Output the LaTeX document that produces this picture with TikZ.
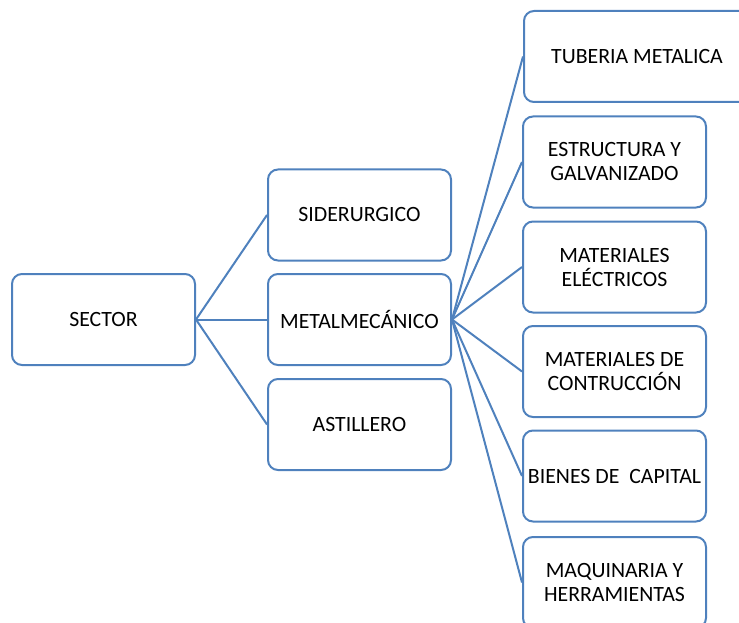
\documentclass[tikz,border=0pt]{standalone}
\usepackage{fontspec}
\setmainfont{Carlito}
\definecolor{boxblue}{HTML}{4F81BD}
\tikzset{
  sectorbox/.style={draw=boxblue,line width=2pt,rounded corners=10pt,
    minimum width=183pt,minimum height=91pt,align=center,inner sep=2pt,
    font=\fontsize{21.8}{24}\selectfont},
  link/.style={draw=boxblue,line width=2pt}
}
\begin{document}
\begin{tikzpicture}[x=1pt,y=-1pt]
  \useasboundingbox (0,0) rectangle (739,623);
  \clip (0,0) rectangle (739,623);
  % first and second level
  \node[sectorbox] (sector) at (103.5,319.5) {SECTOR};
  \node[sectorbox] (sid) at (359.5,215) {SIDERURGICO};
  \node[sectorbox] (metal) at (359.5,319.5) {METALMECÁNICO};
  \node[sectorbox] (ast) at (359.5,424.5) {ASTILLERO};
  % products of the metalworking sector
  \node[sectorbox,anchor=west,minimum width=226pt] (tub) at (523,56.5) {TUBERIA METALICA};
  \node[sectorbox] (est) at (614.5,162) {ESTRUCTURA Y\\GALVANIZADO};
  \node[sectorbox] (elec) at (614.5,267) {MATERIALES\\ELÉCTRICOS};
  \node[sectorbox] (cons) at (614.5,371.5) {MATERIALES DE\\CONTRUCCIÓN};
  \node[sectorbox] (bien) at (614.5,476) {BIENES DE\ \ CAPITAL};
  \node[sectorbox] (maq) at (614.5,582.5) {MAQUINARIA Y\\HERRAMIENTAS};
  \draw[link] (sector.east) -- (sid.west);
  \draw[link] (sector.east) -- (metal.west);
  \draw[link] (sector.east) -- (ast.west);
  \foreach \n in {tub,est,elec,cons,bien,maq}
    \draw[link] (metal.east) -- (\n.west);
\end{tikzpicture}
\end{document}
